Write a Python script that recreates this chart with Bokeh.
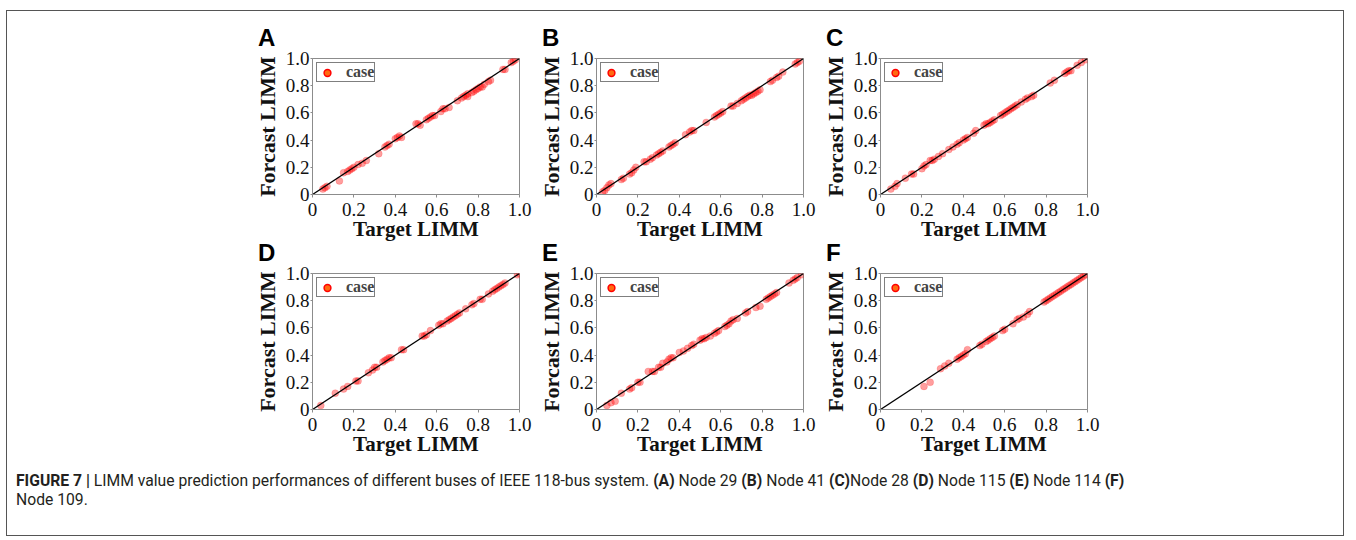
import math
from bokeh.plotting import figure
from bokeh.models import (Range1d, FixedTicker, Legend, LegendItem, Div, Spacer)
from bokeh.layouts import row, column
from bokeh.embed import file_html
from bokeh.resources import INLINE

# ---------------- data ----------------
panel_letters = ["A", "B", "C", "D", "E", "F"]
tick_values = [0, 0.2, 0.4, 0.6, 0.8, 1.0]
tick_labels = ["0", "0.2", "0.4", "0.6", "0.8", "1.0"]

node29_target = [0.05, 0.06, 0.07, 0.13, 0.15, 0.17, 0.18, 0.19, 0.20, 0.22, 0.24, 0.26,
                 0.32, 0.35, 0.36, 0.37, 0.40, 0.41, 0.42, 0.43, 0.50, 0.51, 0.52,
                 0.55, 0.56, 0.57, 0.58, 0.59, 0.62, 0.63, 0.64, 0.66, 0.70, 0.72, 0.73,
                 0.74, 0.75, 0.75, 0.77, 0.78, 0.79, 0.80, 0.81, 0.82, 0.83, 0.85, 0.86,
                 0.92, 0.93, 0.96, 0.97, 0.98]
node29_forecast = [0.04, 0.05, 0.06, 0.10, 0.16, 0.17, 0.18, 0.19, 0.20, 0.22, 0.23, 0.25,
                   0.30, 0.35, 0.36, 0.37, 0.41, 0.42, 0.43, 0.42, 0.52, 0.52, 0.51,
                   0.55, 0.56, 0.57, 0.58, 0.58, 0.61, 0.63, 0.63, 0.64, 0.69, 0.71, 0.72,
                   0.73, 0.72, 0.74, 0.75, 0.76, 0.77, 0.78, 0.79, 0.79, 0.81, 0.83, 0.84,
                   0.92, 0.92, 0.97, 0.98, 0.99]

node41_target = [0.03, 0.04, 0.05, 0.06, 0.07, 0.12, 0.13, 0.16, 0.17, 0.18, 0.19,
                 0.23, 0.24, 0.26, 0.27, 0.29, 0.30, 0.31, 0.32, 0.35, 0.36, 0.37, 0.38,
                 0.43, 0.45, 0.46, 0.47, 0.53, 0.57, 0.58, 0.59, 0.60, 0.61,
                 0.65, 0.66, 0.68, 0.70, 0.71, 0.72, 0.73, 0.74, 0.75, 0.76, 0.77, 0.78, 0.79,
                 0.84, 0.85, 0.87, 0.88, 0.90, 0.96, 0.97, 0.98]
node41_forecast = [0.02, 0.03, 0.05, 0.07, 0.08, 0.11, 0.12, 0.15, 0.16, 0.18, 0.20,
                   0.24, 0.24, 0.26, 0.27, 0.29, 0.30, 0.31, 0.32, 0.35, 0.36, 0.37, 0.38,
                   0.44, 0.46, 0.47, 0.47, 0.53, 0.57, 0.58, 0.59, 0.60, 0.61,
                   0.65, 0.65, 0.67, 0.69, 0.70, 0.71, 0.72, 0.73, 0.73, 0.74, 0.75, 0.76, 0.77,
                   0.83, 0.84, 0.86, 0.87, 0.90, 0.96, 0.97, 0.98]

node28_target = [0.05, 0.07, 0.08, 0.12, 0.15, 0.16, 0.20, 0.21, 0.22, 0.24, 0.25, 0.26,
                 0.28, 0.30, 0.33, 0.35, 0.37, 0.38, 0.40, 0.41, 0.42, 0.45, 0.46,
                 0.50, 0.51, 0.52, 0.53, 0.54, 0.55, 0.58, 0.59, 0.60, 0.61, 0.62, 0.63,
                 0.64, 0.65, 0.66, 0.68, 0.70, 0.71, 0.73, 0.74, 0.82, 0.84,
                 0.89, 0.90, 0.91, 0.92, 0.95, 0.97, 0.99]
node28_forecast = [0.04, 0.06, 0.08, 0.12, 0.15, 0.15, 0.19, 0.21, 0.22, 0.25, 0.25, 0.26,
                   0.28, 0.30, 0.33, 0.35, 0.37, 0.38, 0.40, 0.41, 0.42, 0.45, 0.47,
                   0.51, 0.52, 0.52, 0.53, 0.54, 0.55, 0.58, 0.59, 0.60, 0.61, 0.62, 0.63,
                   0.64, 0.65, 0.66, 0.68, 0.70, 0.71, 0.72, 0.73, 0.82, 0.84,
                   0.89, 0.90, 0.91, 0.91, 0.95, 0.97, 0.99]

node115_target = [0.04, 0.11, 0.15, 0.17, 0.21, 0.22, 0.27, 0.29, 0.30, 0.31,
                  0.34, 0.35, 0.36, 0.37, 0.38, 0.43, 0.44, 0.53, 0.54, 0.55, 0.57,
                  0.61, 0.62, 0.63, 0.65, 0.66, 0.67, 0.68, 0.69, 0.70, 0.71,
                  0.74, 0.77, 0.78, 0.81, 0.82, 0.85, 0.87, 0.88, 0.89, 0.90, 0.91,
                  0.92, 0.93, 0.99, 1.00]
node115_forecast = [0.03, 0.12, 0.15, 0.17, 0.21, 0.21, 0.27, 0.29, 0.31, 0.31,
                    0.35, 0.36, 0.37, 0.38, 0.38, 0.44, 0.44, 0.54, 0.54, 0.55, 0.58,
                    0.62, 0.63, 0.63, 0.65, 0.66, 0.67, 0.68, 0.69, 0.70, 0.71,
                    0.74, 0.77, 0.78, 0.81, 0.81, 0.85, 0.87, 0.88, 0.89, 0.90, 0.91,
                    0.92, 0.93, 0.99, 1.00]

node114_target = [0.05, 0.07, 0.09, 0.12, 0.16, 0.17, 0.20, 0.21, 0.25, 0.27, 0.28,
                  0.30, 0.31, 0.32, 0.34, 0.35, 0.36, 0.37, 0.40, 0.42, 0.44, 0.46, 0.47,
                  0.50, 0.51, 0.52, 0.53, 0.55, 0.57, 0.58, 0.59, 0.62, 0.63, 0.64,
                  0.65, 0.66, 0.68, 0.72, 0.73, 0.77, 0.79, 0.82, 0.83, 0.84, 0.85,
                  0.86, 0.87, 0.93, 0.95, 0.96, 0.97, 0.99]
node114_forecast = [0.03, 0.05, 0.06, 0.12, 0.15, 0.16, 0.20, 0.20, 0.28, 0.28, 0.28,
                    0.31, 0.31, 0.34, 0.35, 0.37, 0.38, 0.38, 0.42, 0.43, 0.45, 0.47, 0.48,
                    0.51, 0.52, 0.52, 0.53, 0.54, 0.56, 0.57, 0.58, 0.61, 0.62, 0.63,
                    0.65, 0.66, 0.67, 0.71, 0.72, 0.75, 0.76, 0.81, 0.82, 0.83, 0.84,
                    0.85, 0.86, 0.93, 0.95, 0.96, 0.97, 0.99]

node109_target = [0.21, 0.24, 0.29, 0.31, 0.33, 0.37, 0.38, 0.39, 0.40, 0.41, 0.42,
                  0.48, 0.49, 0.51, 0.52, 0.53, 0.54, 0.55, 0.59, 0.60,
                  0.64, 0.66, 0.67, 0.69, 0.71, 0.72, 0.79, 0.80, 0.81, 0.82, 0.83,
                  0.84, 0.85, 0.86, 0.87, 0.88, 0.89, 0.90, 0.91, 0.92, 0.93, 0.94,
                  0.95, 0.96, 0.97, 0.98, 0.99]
node109_forecast = [0.17, 0.20, 0.30, 0.32, 0.34, 0.37, 0.38, 0.39, 0.40, 0.41, 0.44,
                    0.47, 0.48, 0.50, 0.51, 0.52, 0.53, 0.54, 0.58, 0.59,
                    0.63, 0.66, 0.67, 0.68, 0.70, 0.72, 0.79, 0.80, 0.81, 0.82, 0.83,
                    0.84, 0.85, 0.86, 0.87, 0.88, 0.89, 0.90, 0.91, 0.92, 0.93, 0.94,
                    0.95, 0.96, 0.97, 0.98, 0.99]

series = [
    (node29_target, node29_forecast),
    (node41_target, node41_forecast),
    (node28_target, node28_forecast),
    (node115_target, node115_forecast),
    (node114_target, node114_forecast),
    (node109_target, node109_forecast),
]
diagonal = [0, 1]

SERIF = "Liberation Serif"
BOTTOM = 48
TOP = 10


def make_panel(xs, ys):
    p = figure(frame_width=207, frame_height=136,
               x_range=Range1d(0, 1), y_range=Range1d(0, 1),
               min_border_left=64, min_border_right=13,
               min_border_top=TOP, min_border_bottom=BOTTOM,
               output_backend="svg", toolbar_location=None,
               background_fill_color="white", border_fill_color="white")
    p.grid.visible = False
    p.outline_line_color = "#8c8c8c"
    p.outline_line_width = 1

    for ax in (p.xaxis[0], p.yaxis[0]):
        ax.ticker = FixedTicker(ticks=tick_values)
        ax.major_label_overrides = {v: s for v, s in zip(tick_values, tick_labels)}
        ax.minor_tick_line_color = None
        ax.axis_line_color = "#8c8c8c"
        ax.major_tick_line_color = "#8c8c8c"
        ax.major_label_text_font = SERIF
        ax.major_label_text_font_size = "19px"
        ax.major_label_text_color = "#111111"
        ax.axis_label_text_font = SERIF
        ax.axis_label_text_font_style = "bold"
        ax.axis_label_text_color = "#111111"

    p.xaxis.axis_label = "Target LIMM"
    p.xaxis.axis_label_text_font_size = "21px"
    p.xaxis.major_tick_in = 0
    p.xaxis.major_tick_out = 3
    p.xaxis.major_label_standoff = 5
    p.xaxis.axis_label_standoff = -2

    p.yaxis.axis_label = "Forcast LIMM"
    p.yaxis.axis_label_text_font_size = "22px"
    p.yaxis.major_tick_in = 0
    p.yaxis.major_tick_out = 2
    p.yaxis.major_label_standoff = 1
    p.yaxis.axis_label_standoff = 3

    p.scatter(xs, ys, size=7, fill_color="red", fill_alpha=0.38,
              line_color="red", line_alpha=0.15)
    p.line(diagonal, diagonal, line_color="black", line_width=1.3)

    dummy = p.scatter([math.nan], [math.nan], size=8, fill_color="#ff6a10",
                      line_color="red", line_width=1.5)
    legend = Legend(items=[LegendItem(label="case", renderers=[dummy])],
                    location="top_left", margin=4, padding=0, spacing=0,
                    border_line_color="black", border_line_width=1.5,
                    label_text_font=SERIF, label_text_font_style="bold",
                    label_text_font_size="16px", label_standoff=9,
                    glyph_width=20, glyph_height=17, label_height=16,
                    label_text_baseline="middle",
                    background_fill_alpha=1.0)
    p.add_layout(legend, "center")
    return p


def letter_div(letter):
    return Div(text=letter, width=284, height=20, margin=0,
               styles={"font-family": "'Liberation Sans', Arial, sans-serif",
                       "font-weight": "bold", "font-size": "24px",
                       "line-height": "20px", "color": "black",
                       "padding-left": "10px", "box-sizing": "border-box",
                       "overflow": "visible"})


figs = [make_panel(xs, ys) for xs, ys in series]
letters = [letter_div(l) for l in panel_letters]

caption = Div(
    text=("<b>FIGURE 7 |</b> LIMM value prediction performances of different buses of "
          "IEEE 118-bus system. <b>(A)</b> Node 29 <b>(B)</b> Node 41 <b>(C)</b>Node 28 "
          "<b>(D)</b> Node 115 <b>(E)</b> Node 114 <b>(F)</b><br>Node 109."),
    width=1336, height=77, margin=0,
    styles={"font-family": "Roboto, 'Liberation Sans', sans-serif",
            "font-size": "15.7px", "line-height": "19px", "color": "#231f20",
            "padding-left": "9px", "padding-top": "13px", "white-space": "nowrap",
            "box-sizing": "border-box"})

box = column(
    Spacer(width=10, height=17),
    row(Spacer(width=241, height=20), letters[0], letters[1], letters[2]),
    row(Spacer(width=241, height=10), figs[0], figs[1], figs[2]),
    row(Spacer(width=241, height=20), letters[3], letters[4], letters[5]),
    row(Spacer(width=241, height=10), figs[3], figs[4], figs[5]),
    caption,
    styles={"border": "1px solid #555555"},
)

layout = column(
    Spacer(width=10, height=10),
    row(Spacer(width=6, height=10), box),
)

open("out.html", "w").write(file_html(layout, INLINE))
